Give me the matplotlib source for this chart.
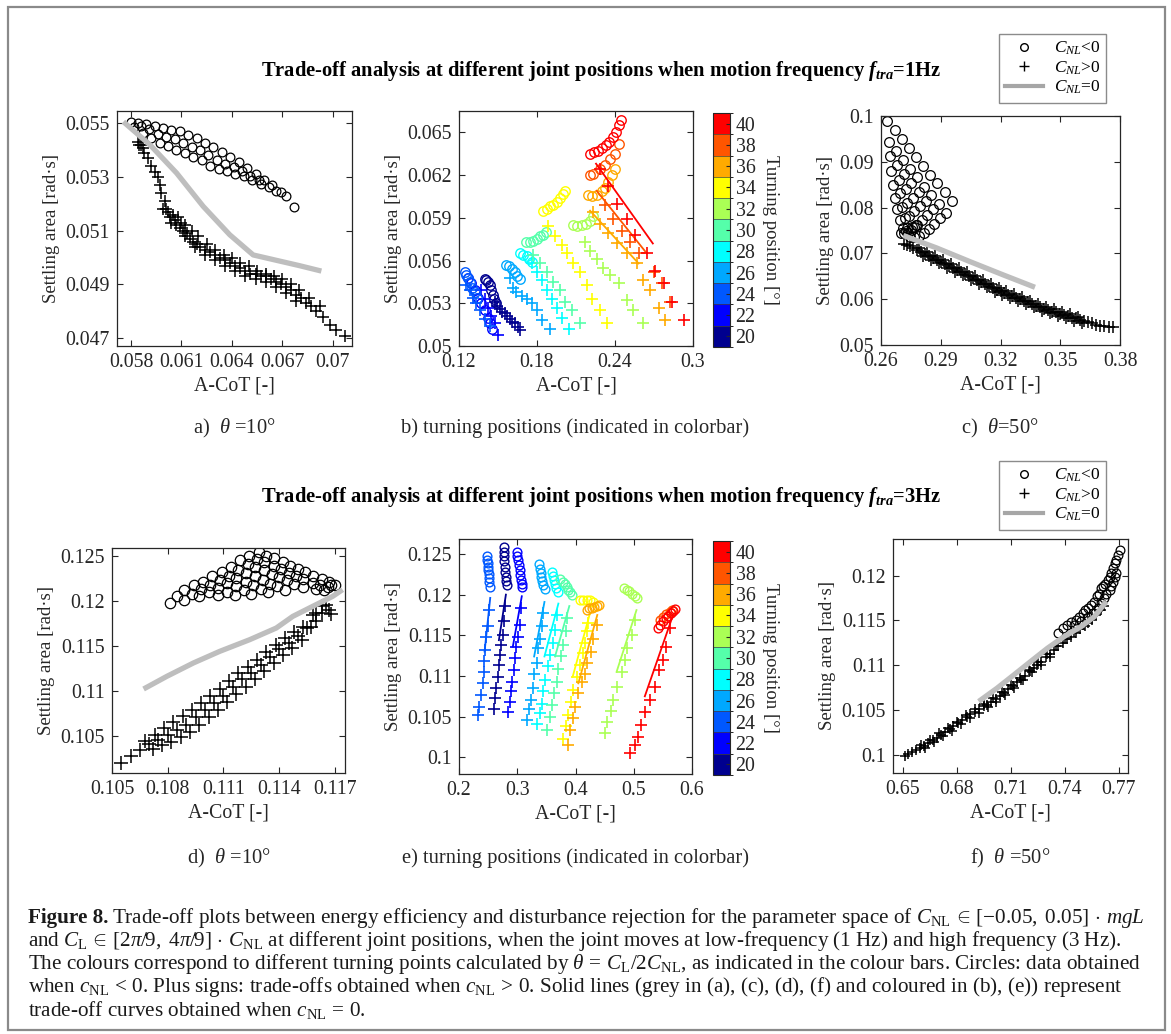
import numpy as np
import matplotlib
matplotlib.use('Agg')
import matplotlib.pyplot as plt
from matplotlib.colors import ListedColormap, BoundaryNorm
from matplotlib.colorbar import ColorbarBase
from matplotlib.lines import Line2D
from matplotlib.patches import Rectangle

plt.rcParams['font.family'] = ['Liberation Serif', 'DejaVu Serif']
plt.rcParams['mathtext.fontset'] = 'custom'
plt.rcParams['mathtext.rm'] = 'Liberation Serif'
plt.rcParams['mathtext.it'] = 'Liberation Serif:italic'
plt.rcParams['mathtext.bf'] = 'Liberation Serif:bold:italic'

W, H = 1171, 1034
grey = '#bebebe'
ink = '#262626'

# turning positions of the colour bars
positions = [20, 22, 24, 26, 28, 30, 32, 34, 36, 38, 40]
pos_colors = ['#00008f', '#0000ff', '#0058ff', '#00a8ff', '#00ffff', '#55ffaa',
              '#aaff55', '#ffff00', '#ffaa00', '#ff5500', '#ff0000']

# ---------------- (a) theta=10deg, 1 Hz ----------------
a_circ = np.array([
    (0.0580, 0.05506), (0.0584, 0.05503), (0.0589, 0.05498), (0.0594, 0.05492), (0.0599, 0.05484),
    (0.0604, 0.05477), (0.0609, 0.05470), (0.0614, 0.05458), (0.0619, 0.05444), (0.0624, 0.05428),
    (0.0629, 0.05411), (0.0634, 0.05394), (0.0639, 0.05374), (0.0644, 0.05355), (0.0649, 0.05334),
    (0.0654, 0.05311), (0.0659, 0.05290), (0.0664, 0.05270), (0.0669, 0.05245), (0.0672, 0.05231),
    (0.0586, 0.05492), (0.0591, 0.05478), (0.0596, 0.05462), (0.0601, 0.05450), (0.0606, 0.05440),
    (0.0611, 0.05428), (0.0616, 0.05413), (0.0621, 0.05400), (0.0626, 0.05382), (0.0631, 0.05365),
    (0.0636, 0.05350), (0.0641, 0.05336), (0.0646, 0.05322), (0.0651, 0.05305), (0.0656, 0.05290),
    (0.0582, 0.05485), (0.0587, 0.05465), (0.0592, 0.05445), (0.0597, 0.05426), (0.0602, 0.05415),
    (0.0607, 0.05402), (0.0612, 0.05390), (0.0617, 0.05375), (0.0622, 0.05362), (0.0627, 0.05340),
    (0.0632, 0.05330), (0.0637, 0.05321), (0.0642, 0.05312), (0.0647, 0.05303), (0.0652, 0.05290),
    (0.0657, 0.05275), (0.0662, 0.05262), (0.0666, 0.05247), (0.0677, 0.05190)])
a_plus = np.array([
    (0.0584, 0.0543), (0.0585, 0.0542), (0.0586, 0.0542), (0.0587, 0.0541), (0.0588, 0.0539),
    (0.0590, 0.0537), (0.0592, 0.0534), (0.0594, 0.0532), (0.0596, 0.0530), (0.0597, 0.0527),
    (0.0598, 0.0524), (0.0600, 0.0521), (0.0601, 0.0518), (0.0603, 0.0515), (0.0604, 0.0513),
    (0.0606, 0.0514), (0.0607, 0.0512), (0.0609, 0.0511), (0.0610, 0.0513), (0.0611, 0.0510),
    (0.0613, 0.0509), (0.0615, 0.0507), (0.0617, 0.0506), (0.0619, 0.0505), (0.0621, 0.0504),
    (0.0624, 0.0503), (0.0627, 0.0502), (0.0630, 0.0501), (0.0633, 0.0500), (0.0636, 0.0499),
    (0.0639, 0.0498), (0.0642, 0.0497), (0.0645, 0.0496), (0.0648, 0.0495), (0.0651, 0.0494),
    (0.0654, 0.0494), (0.0657, 0.0493), (0.0660, 0.0493), (0.0663, 0.0492), (0.0666, 0.0491),
    (0.0669, 0.0490), (0.0672, 0.0489), (0.0675, 0.0488), (0.0678, 0.0486), (0.0681, 0.0485),
    (0.0684, 0.0483), (0.0687, 0.0482), (0.0690, 0.0480), (0.0694, 0.0478), (0.0698, 0.0475),
    (0.0702, 0.0473), (0.0707, 0.0471),
    (0.0599, 0.0518), (0.0602, 0.0517), (0.0605, 0.0516), (0.0608, 0.0515), (0.0612, 0.0512),
    (0.0616, 0.0510), (0.0620, 0.0508), (0.0625, 0.0505), (0.0630, 0.0503), (0.0635, 0.0501),
    (0.0640, 0.0500), (0.0645, 0.0498), (0.0650, 0.0497), (0.0655, 0.0495), (0.0660, 0.0494),
    (0.0665, 0.0493), (0.0670, 0.0492), (0.0675, 0.0490), (0.0680, 0.0488), (0.0686, 0.0485),
    (0.0692, 0.0482),
    (0.0612, 0.0508), (0.0618, 0.0504), (0.0624, 0.0501), (0.0630, 0.0499), (0.0636, 0.0497),
    (0.0642, 0.0495), (0.0648, 0.0493), (0.0654, 0.0492), (0.0660, 0.0491), (0.0666, 0.0489),
    (0.0672, 0.0487), (0.0678, 0.0484)])
a_line_x = [0.05755, 0.05913, 0.06071, 0.06229, 0.06387, 0.06526, 0.06664, 0.06802, 0.06931]
a_line_y = [0.05506, 0.05420, 0.05315, 0.05191, 0.05085, 0.05010, 0.04990, 0.04970, 0.04950]

# ---------------- (b) turning positions, 1 Hz ----------------
b_circles = [
    [(0.1398, 0.0547), (0.1411, 0.0546), (0.1424, 0.0545), (0.1437, 0.0543), (0.1449, 0.0539), (0.1462, 0.0536), (0.1470, 0.0533), (0.1483, 0.0530)],
    [(0.1269, 0.0548), (0.1295, 0.0544), (0.1321, 0.0539), (0.1347, 0.0534), (0.1372, 0.0530), (0.1398, 0.0525), (0.1424, 0.0520), (0.1442, 0.0516), (0.1457, 0.0512)],
    [(0.1244, 0.0552), (0.1257, 0.0550), (0.1269, 0.0548), (0.1282, 0.0545), (0.1303, 0.0541), (0.1321, 0.0538), (0.1339, 0.0534)],
    [(0.1565, 0.0557), (0.1586, 0.0556), (0.1606, 0.0554), (0.1627, 0.0552), (0.1647, 0.0549), (0.1668, 0.0547)],
    [(0.1668, 0.0565), (0.1694, 0.0564), (0.1720, 0.0563), (0.1741, 0.0561), (0.1758, 0.0559)],
    [(0.1719, 0.0573), (0.1745, 0.0573), (0.1771, 0.0574), (0.1797, 0.0575), (0.1822, 0.0577), (0.1848, 0.0578), (0.1869, 0.0580)],
    [(0.2079, 0.0585), (0.2110, 0.0584), (0.2144, 0.0585), (0.2177, 0.0586), (0.2208, 0.0588), (0.2234, 0.0591)],
    [(0.1848, 0.0595), (0.1874, 0.0596), (0.1899, 0.0598), (0.1925, 0.0599), (0.1951, 0.0601), (0.1977, 0.0604), (0.2002, 0.0607), (0.2015, 0.0609)],
    [(0.2195, 0.0606), (0.2221, 0.0605), (0.2259, 0.0606), (0.2298, 0.0609), (0.2324, 0.0611), (0.2349, 0.0615), (0.2375, 0.0620), (0.2401, 0.0624)],
    [(0.2208, 0.0620), (0.2234, 0.0621), (0.2285, 0.0624), (0.2324, 0.0627), (0.2362, 0.0631), (0.2401, 0.0635), (0.2427, 0.0642)],
    [(0.2208, 0.0635), (0.2239, 0.0636), (0.2272, 0.0637), (0.2303, 0.0639), (0.2331, 0.0641), (0.2357, 0.0643), (0.2383, 0.0647), (0.2406, 0.0650), (0.2427, 0.0655), (0.2445, 0.0659)],
]
b_plus = [
    [(0.1475, 0.0531), (0.1490, 0.0528), (0.1514, 0.0526), (0.1530, 0.0524), (0.1552, 0.0523), (0.1570, 0.0521), (0.1591, 0.0519), (0.1610, 0.0517), (0.1629, 0.0516), (0.1650, 0.0513), (0.1668, 0.0511)],
    [(0.1372, 0.0539), (0.1398, 0.0533), (0.1424, 0.0527), (0.1449, 0.0521), (0.1475, 0.0516), (0.1501, 0.0508)],
    [(0.1257, 0.0543), (0.1282, 0.0539), (0.1308, 0.0534), (0.1334, 0.0530), (0.1359, 0.0525), (0.1398, 0.0519), (0.1437, 0.0514)],
    [(0.1591, 0.0548), (0.1617, 0.0541), (0.1642, 0.0538), (0.1681, 0.0535), (0.1720, 0.0533), (0.1758, 0.0530), (0.1797, 0.0525), (0.1836, 0.0518), (0.1900, 0.0512)],
    [(0.1758, 0.0558), (0.1797, 0.0552), (0.1836, 0.0546), (0.1874, 0.0539), (0.1913, 0.0533), (0.1952, 0.0527), (0.1991, 0.0520), (0.2043, 0.0512)],
    [(0.1771, 0.0564), (0.1822, 0.0558), (0.1874, 0.0552), (0.1925, 0.0545), (0.1977, 0.0539), (0.2015, 0.0531), (0.2067, 0.0525), (0.2131, 0.0516)],
    [(0.2169, 0.0573), (0.2208, 0.0567), (0.2259, 0.0561), (0.2311, 0.0555), (0.2362, 0.0550), (0.2427, 0.0544), (0.2491, 0.0532), (0.2542, 0.0525), (0.2619, 0.0516)],
    [(0.1887, 0.0584), (0.1938, 0.0577), (0.1989, 0.0571), (0.2028, 0.0565), (0.2079, 0.0558), (0.2131, 0.0552), (0.2182, 0.0543), (0.2221, 0.0533), (0.2285, 0.0525), (0.2337, 0.0516)],
    [(0.2234, 0.0594), (0.2285, 0.0586), (0.2349, 0.0579), (0.2414, 0.0572), (0.2491, 0.0565), (0.2568, 0.0558), (0.2619, 0.0546), (0.2671, 0.0539), (0.2735, 0.0527), (0.2787, 0.0518)],
    [(0.2324, 0.0599), (0.2388, 0.0589), (0.2452, 0.0581), (0.2517, 0.0573), (0.2581, 0.0565), (0.2697, 0.0552), (0.2761, 0.0544), (0.2825, 0.0531)],
    [(0.2285, 0.0624), (0.2349, 0.0612), (0.2414, 0.0600), (0.2491, 0.0589), (0.2555, 0.0578), (0.2645, 0.0565), (0.2709, 0.0553), (0.2774, 0.0544), (0.2838, 0.0531), (0.2928, 0.0518)],
]
b_lines = [[], [], [], [], [], [], [], [],
           [(0.2208, 0.0595), (0.2581, 0.0558)],
           [(0.2259, 0.0609), (0.2645, 0.0565)],
           [(0.2254, 0.0628), (0.2691, 0.0572)]]

# ---------------- (c) theta=50deg, 1 Hz ----------------
c_circ = np.array([
    (0.2632, 0.0988), (0.2668, 0.0969), (0.2704, 0.0949), (0.2740, 0.0930), (0.2776, 0.0911),
    (0.2812, 0.0891), (0.2847, 0.0872), (0.2883, 0.0853), (0.2919, 0.0833), (0.2955, 0.0814),
    (0.2638, 0.0943), (0.2674, 0.0924), (0.2710, 0.0904), (0.2746, 0.0885), (0.2782, 0.0866),
    (0.2818, 0.0846), (0.2853, 0.0827), (0.2889, 0.0808), (0.2925, 0.0788),
    (0.2645, 0.0912), (0.2681, 0.0893), (0.2717, 0.0873), (0.2753, 0.0854), (0.2789, 0.0835),
    (0.2825, 0.0815), (0.2860, 0.0796), (0.2896, 0.0777),
    (0.2652, 0.0880), (0.2688, 0.0861), (0.2724, 0.0841), (0.2760, 0.0822), (0.2796, 0.0803),
    (0.2832, 0.0783), (0.2867, 0.0764),
    (0.2660, 0.0850), (0.2696, 0.0831), (0.2732, 0.0811), (0.2768, 0.0792), (0.2804, 0.0773),
    (0.2840, 0.0753),
    (0.2670, 0.0821), (0.2706, 0.0802), (0.2742, 0.0782), (0.2778, 0.0763), (0.2814, 0.0744),
    (0.2682, 0.0796), (0.2718, 0.0777), (0.2754, 0.0757), (0.2790, 0.0738),
    (0.2695, 0.0774), (0.2731, 0.0755), (0.2767, 0.0735),
    (0.2709, 0.0755), (0.2745, 0.0736),
    (0.2700, 0.0745), (0.2715, 0.0745), (0.2725, 0.0750), (0.2735, 0.0745), (0.2750, 0.0752),
    (0.2765, 0.0758), (0.2780, 0.0762)])
c_plus = np.array([
    (0.2715, 0.0720), (0.2730, 0.0719), (0.2745, 0.0716), (0.2760, 0.0712), (0.2780, 0.0708),
    (0.2800, 0.0703), (0.2820, 0.0699), (0.2840, 0.0694), (0.2860, 0.0690), (0.2880, 0.0686),
    (0.2900, 0.0681), (0.2920, 0.0677), (0.2940, 0.0673), (0.2960, 0.0669), (0.2980, 0.0664),
    (0.3000, 0.0660), (0.3020, 0.0656), (0.3040, 0.0651), (0.3060, 0.0647), (0.3080, 0.0643),
    (0.3100, 0.0638), (0.3120, 0.0634), (0.3140, 0.0629), (0.3160, 0.0625), (0.3180, 0.0620),
    (0.3200, 0.0617), (0.3220, 0.0614), (0.3240, 0.0610), (0.3260, 0.0607), (0.3280, 0.0603),
    (0.3300, 0.0600), (0.3320, 0.0596), (0.3340, 0.0593), (0.3360, 0.0589), (0.3380, 0.0586),
    (0.3400, 0.0582), (0.3420, 0.0579), (0.3440, 0.0576), (0.3460, 0.0573), (0.3480, 0.0571),
    (0.3500, 0.0568), (0.3520, 0.0565), (0.3540, 0.0563), (0.3560, 0.0560), (0.3580, 0.0558),
    (0.3600, 0.0555), (0.3620, 0.0552), (0.3640, 0.0550), (0.3660, 0.0547), (0.3680, 0.0544),
    (0.3700, 0.0542), (0.3720, 0.0541), (0.3745, 0.0540), (0.3765, 0.0540),
    (0.2790, 0.0712), (0.2830, 0.0703), (0.2870, 0.0694), (0.2910, 0.0685), (0.2950, 0.0677),
    (0.2990, 0.0668), (0.3030, 0.0659), (0.3070, 0.0651), (0.3110, 0.0642), (0.3150, 0.0633),
    (0.3190, 0.0625), (0.3230, 0.0618), (0.3270, 0.0611), (0.3310, 0.0604), (0.3350, 0.0597),
    (0.3390, 0.0590), (0.3430, 0.0583), (0.3470, 0.0578), (0.3510, 0.0573), (0.3550, 0.0568),
    (0.3590, 0.0562),
    (0.2810, 0.0695), (0.2850, 0.0686), (0.2890, 0.0678), (0.2930, 0.0669), (0.2970, 0.0660),
    (0.3010, 0.0652), (0.3050, 0.0643), (0.3090, 0.0634), (0.3130, 0.0626), (0.3170, 0.0616),
    (0.3210, 0.0609), (0.3250, 0.0602), (0.3290, 0.0596), (0.3330, 0.0589), (0.3370, 0.0582),
    (0.3410, 0.0575), (0.3450, 0.0569), (0.3490, 0.0563), (0.3530, 0.0558), (0.3570, 0.0553),
    (0.3610, 0.0548)])
c_line_x = [0.2712, 0.2879, 0.3047, 0.3214, 0.3373]
c_line_y = [0.0739, 0.0712, 0.0682, 0.0653, 0.0626]

# ---------------- (d) theta=10deg, 3 Hz ----------------
d_circ = np.array([
    (0.1081, 0.1198),
    (0.1085, 0.1205), (0.1089, 0.1201),
    (0.1089, 0.1212), (0.1093, 0.1208), (0.1097, 0.1205),
    (0.1094, 0.1217), (0.1098, 0.1213), (0.1102, 0.1210), (0.1107, 0.1206),
    (0.1099, 0.1221), (0.1103, 0.1217), (0.1107, 0.1214), (0.1112, 0.1210), (0.1116, 0.1206),
    (0.1104, 0.1227), (0.1108, 0.1223), (0.1112, 0.1220), (0.1117, 0.1216), (0.1121, 0.1212), (0.1125, 0.1208),
    (0.1109, 0.1232), (0.1113, 0.1228), (0.1117, 0.1225), (0.1122, 0.1221), (0.1126, 0.1217), (0.1130, 0.1213),
    (0.1134, 0.1210),
    (0.1114, 0.1238), (0.1118, 0.1234), (0.1122, 0.1231), (0.1127, 0.1227), (0.1131, 0.1223), (0.1135, 0.1219),
    (0.1139, 0.1216), (0.1143, 0.1212),
    (0.1119, 0.1245), (0.1123, 0.1241), (0.1127, 0.1238), (0.1132, 0.1234), (0.1136, 0.1230), (0.1140, 0.1226),
    (0.1144, 0.1223), (0.1148, 0.1219), (0.1153, 0.1215),
    (0.1124, 0.1250), (0.1128, 0.1246), (0.1132, 0.1243), (0.1137, 0.1239), (0.1141, 0.1235), (0.1145, 0.1231),
    (0.1149, 0.1228), (0.1153, 0.1224), (0.1158, 0.1220), (0.1162, 0.1217),
    (0.1129, 0.1254), (0.1133, 0.1250), (0.1137, 0.1247), (0.1142, 0.1243), (0.1146, 0.1239), (0.1150, 0.1235),
    (0.1154, 0.1232), (0.1158, 0.1228), (0.1163, 0.1224), (0.1167, 0.1221),
    (0.1166, 0.1215), (0.1168, 0.1218), (0.1170, 0.1217), (0.1164, 0.1212), (0.1160, 0.1213)])
d_plus = np.array([
    (0.1055, 0.1021), (0.1060, 0.1028), (0.1065, 0.1035), (0.1070, 0.1041), (0.1075, 0.1046),
    (0.1080, 0.1051), (0.1085, 0.1057), (0.1090, 0.1063), (0.1095, 0.1071), (0.1100, 0.1079),
    (0.1105, 0.1087), (0.1110, 0.1095), (0.1115, 0.1105), (0.1120, 0.1113), (0.1125, 0.1120),
    (0.1130, 0.1129), (0.1135, 0.1138), (0.1140, 0.1147), (0.1145, 0.1153), (0.1150, 0.1161),
    (0.1155, 0.1170), (0.1160, 0.1187), (0.1165, 0.1195), (0.1163, 0.1187), (0.1167, 0.1190),
    (0.1168, 0.1185), (0.1160, 0.1178),
    (0.1068, 0.1045), (0.1073, 0.1052), (0.1078, 0.1059), (0.1083, 0.1066), (0.1088, 0.1072),
    (0.1093, 0.1079), (0.1098, 0.1087), (0.1103, 0.1095), (0.1108, 0.1102), (0.1113, 0.1111),
    (0.1118, 0.1120), (0.1123, 0.1127), (0.1128, 0.1135), (0.1133, 0.1143), (0.1138, 0.1151),
    (0.1143, 0.1159), (0.1148, 0.1165), (0.1153, 0.1171), (0.1158, 0.1184), (0.1163, 0.1194),
    (0.1072, 0.1036), (0.1077, 0.1040), (0.1082, 0.1044), (0.1087, 0.1049), (0.1092, 0.1055),
    (0.1097, 0.1063), (0.1102, 0.1071), (0.1107, 0.1079), (0.1112, 0.1088), (0.1117, 0.1097),
    (0.1122, 0.1105), (0.1127, 0.1113), (0.1132, 0.1122), (0.1137, 0.1131), (0.1142, 0.1140),
    (0.1147, 0.1148), (0.1152, 0.1157), (0.1157, 0.1171)])
d_line_x = [0.1067, 0.10795, 0.10938, 0.1108, 0.11241, 0.11384, 0.11473, 0.1158, 0.11688, 0.11741]
d_line_y = [0.11024, 0.11164, 0.11312, 0.11441, 0.1157, 0.11699, 0.11828, 0.11939, 0.1205, 0.12124]

# ---------------- (e) turning positions, 3 Hz ----------------
e_circles = [
    [(0.2765, 0.1258), (0.2765, 0.1253), (0.2770, 0.1247), (0.2776, 0.1241), (0.2782, 0.1234), (0.2788, 0.1228), (0.2799, 0.1222), (0.2810, 0.1217), (0.2822, 0.1212)],
    [(0.2993, 0.1253), (0.3004, 0.1248), (0.3016, 0.1242), (0.3027, 0.1236), (0.3039, 0.1230), (0.3050, 0.1224), (0.3061, 0.1218), (0.3073, 0.1213), (0.3084, 0.1209)],
    [(0.2479, 0.1247), (0.2485, 0.1243), (0.2491, 0.1239), (0.2496, 0.1234), (0.2502, 0.1230), (0.2508, 0.1225), (0.2514, 0.1220), (0.2519, 0.1215), (0.2525, 0.1209)],
    [(0.3381, 0.1238), (0.3392, 0.1232), (0.3404, 0.1227), (0.3415, 0.1222), (0.3432, 0.1217), (0.3449, 0.1212), (0.3472, 0.1207)],
    [(0.3592, 0.1228), (0.3609, 0.1223), (0.3626, 0.1218), (0.3643, 0.1213), (0.3666, 0.1208), (0.3695, 0.1203)],
    [(0.3735, 0.1219), (0.3780, 0.1216), (0.3820, 0.1213), (0.3849, 0.1209), (0.3877, 0.1206), (0.3906, 0.1203), (0.3934, 0.1200)],
    [(0.4830, 0.1208), (0.4876, 0.1206), (0.4922, 0.1204), (0.4967, 0.1201), (0.5013, 0.1198), (0.5058, 0.1196)],
    [(0.4077, 0.1194), (0.4134, 0.1194), (0.4191, 0.1193), (0.4248, 0.1193), (0.4294, 0.1191)],
    [(0.4191, 0.1181), (0.4237, 0.1183), (0.4277, 0.1184), (0.4317, 0.1185), (0.4362, 0.1186), (0.4408, 0.1187)],
    [(0.5447, 0.1169), (0.5504, 0.1172), (0.5561, 0.1176), (0.5618, 0.1179), (0.5663, 0.1181)],
    [(0.5418, 0.1159), (0.5458, 0.1163), (0.5504, 0.1167), (0.5549, 0.1171), (0.5595, 0.1174), (0.5640, 0.1177), (0.5675, 0.1180), (0.5703, 0.1182)],
]
e_plus = [
    [(0.2793, 0.1186), (0.2776, 0.1167), (0.2753, 0.1150), (0.2719, 0.1138), (0.2696, 0.1126), (0.2679, 0.1114), (0.2662, 0.1099), (0.2639, 0.1085), (0.2622, 0.1073), (0.2593, 0.1060)],
    [(0.3061, 0.1183), (0.3039, 0.1163), (0.3010, 0.1148), (0.2981, 0.1136), (0.2953, 0.1122), (0.2936, 0.1107), (0.2913, 0.1093), (0.2890, 0.1081), (0.2867, 0.1068), (0.2845, 0.1056)],
    [(0.2519, 0.1181), (0.2491, 0.1162), (0.2456, 0.1148), (0.2445, 0.1132), (0.2434, 0.1118), (0.2428, 0.1105), (0.2405, 0.1091), (0.2377, 0.1077), (0.2348, 0.1062), (0.2320, 0.1052)],
    [(0.3449, 0.1177), (0.3421, 0.1161), (0.3392, 0.1146), (0.3364, 0.1134), (0.3335, 0.1116), (0.3295, 0.1103), (0.3267, 0.1085), (0.3233, 0.1071), (0.3204, 0.1060), (0.3175, 0.1046)],
    [(0.3678, 0.1175), (0.3649, 0.1157), (0.3609, 0.1140), (0.3564, 0.1126), (0.3524, 0.1112), (0.3478, 0.1095), (0.3449, 0.1081), (0.3421, 0.1066), (0.3392, 0.1054), (0.3335, 0.1041)],
    [(0.3860, 0.1171), (0.3837, 0.1155), (0.3792, 0.1138), (0.3746, 0.1124), (0.3706, 0.1109), (0.3678, 0.1093), (0.3638, 0.1079), (0.3592, 0.1064), (0.3564, 0.1050), (0.3506, 0.1034)],
    [(0.5019, 0.1169), (0.4962, 0.1150), (0.4887, 0.1134), (0.4847, 0.1120), (0.4790, 0.1105), (0.4716, 0.1087), (0.4648, 0.1071), (0.4602, 0.1057), (0.4545, 0.1044), (0.4505, 0.1030)],
    [(0.4220, 0.1165), (0.4191, 0.1155), (0.4163, 0.1140), (0.4123, 0.1128), (0.4077, 0.1114), (0.4020, 0.1099), (0.3963, 0.1083), (0.3923, 0.1068), (0.3877, 0.1052), (0.3837, 0.1038), (0.3780, 0.1023)],
    [(0.4362, 0.1163), (0.4305, 0.1146), (0.4260, 0.1130), (0.4203, 0.1116), (0.4163, 0.1103), (0.4106, 0.1093), (0.4049, 0.1079), (0.3992, 0.1062), (0.3951, 0.1048), (0.3906, 0.1034), (0.3866, 0.1015)],
    [],
    [(0.5618, 0.1159), (0.5561, 0.1136), (0.5504, 0.1120), (0.5435, 0.1107), (0.5361, 0.1087), (0.5275, 0.1071), (0.5190, 0.1056), (0.5133, 0.1040), (0.5076, 0.1025), (0.5019, 0.1015), (0.4944, 0.1005)],
]
e_lines = [
    [(0.2805, 0.1200), (0.2685, 0.1144)],
    [(0.3078, 0.1198), (0.2924, 0.1136)],
    [(0.2536, 0.1196), (0.2439, 0.1130)],
    [(0.3467, 0.1191), (0.3290, 0.1124)],
    [(0.3706, 0.1189), (0.3467, 0.1124)],
    [(0.3894, 0.1186), (0.3649, 0.1124)],
    [(0.5047, 0.1181), (0.4705, 0.1105)],
    [(0.4248, 0.1177), (0.3951, 0.1099)],
    [(0.4374, 0.1175), (0.4049, 0.1091)],
    [],
    [(0.5675, 0.1175), (0.5190, 0.1075)],
]

# ---------------- (f) theta=50deg, 3 Hz ----------------
f_circ = np.array([
    (0.7360, 0.1136), (0.7388, 0.1141), (0.7412, 0.1145), (0.7435, 0.1148), (0.7463, 0.1151),
    (0.7481, 0.1154), (0.7500, 0.1158), (0.7513, 0.1162), (0.7528, 0.1164), (0.7547, 0.1167),
    (0.7565, 0.1171), (0.7580, 0.1177), (0.7593, 0.1180), (0.7603, 0.1186), (0.7612, 0.1188),
    (0.7625, 0.1191), (0.7640, 0.1195), (0.7650, 0.1199), (0.7659, 0.1203), (0.7668, 0.1208),
    (0.7678, 0.1214), (0.7687, 0.1218), (0.7696, 0.1223), (0.7706, 0.1229),
    (0.7453, 0.1145), (0.7491, 0.1149), (0.7528, 0.1154), (0.7556, 0.1158), (0.7584, 0.1164),
    (0.7603, 0.1169), (0.7621, 0.1175), (0.7631, 0.1180), (0.7650, 0.1184), (0.7659, 0.1188),
    (0.7668, 0.1193), (0.7678, 0.1199), (0.7687, 0.1203)])
f_plus = np.array([
    (0.6509, 0.0999), (0.6530, 0.1001), (0.6550, 0.1003), (0.6570, 0.1005), (0.6593, 0.1007),
    (0.6615, 0.1010), (0.6640, 0.1013), (0.6665, 0.1016), (0.6687, 0.1019), (0.6710, 0.1022),
    (0.6735, 0.1025), (0.6760, 0.1029), (0.6780, 0.1032), (0.6805, 0.1035), (0.6830, 0.1039),
    (0.6855, 0.1042), (0.6874, 0.1045), (0.6900, 0.1048), (0.6925, 0.1051), (0.6950, 0.1054),
    (0.6967, 0.1056), (0.6990, 0.1059), (0.7015, 0.1062), (0.7040, 0.1066), (0.7061, 0.1069),
    (0.7085, 0.1073), (0.7110, 0.1077), (0.7135, 0.1081), (0.7154, 0.1084), (0.7180, 0.1088),
    (0.7205, 0.1093), (0.7230, 0.1097), (0.7248, 0.1100), (0.7270, 0.1104), (0.7295, 0.1109),
    (0.7320, 0.1113), (0.7341, 0.1117), (0.7365, 0.1121), (0.7390, 0.1125), (0.7415, 0.1129),
    (0.7435, 0.1132), (0.7460, 0.1136), (0.7485, 0.1140), (0.7510, 0.1144), (0.7528, 0.1147),
    (0.7550, 0.1151), (0.7575, 0.1156), (0.7603, 0.1162), (0.7620, 0.1166),
    (0.6600, 0.1011), (0.6650, 0.1017), (0.6700, 0.1024), (0.6750, 0.1030), (0.6800, 0.1037),
    (0.6850, 0.1044), (0.6900, 0.1051), (0.6950, 0.1057), (0.7000, 0.1063), (0.7050, 0.1070),
    (0.7100, 0.1078), (0.7150, 0.1086), (0.7200, 0.1095), (0.7250, 0.1103), (0.7300, 0.1112),
    (0.7350, 0.1121), (0.7400, 0.1129), (0.7450, 0.1137), (0.7500, 0.1145), (0.7550, 0.1154),
    (0.6620, 0.1008), (0.6670, 0.1014), (0.6720, 0.1021), (0.6770, 0.1027), (0.6820, 0.1034),
    (0.6870, 0.1041), (0.6920, 0.1047), (0.6970, 0.1053), (0.7020, 0.1059), (0.7070, 0.1067),
    (0.7120, 0.1075), (0.7170, 0.1083), (0.7220, 0.1092), (0.7270, 0.1100), (0.7320, 0.1109)])
f_line_x = [0.6921, 0.7023, 0.7117, 0.7210, 0.7304, 0.7397, 0.7491, 0.7565, 0.7631]
f_line_y = [0.10595, 0.10743, 0.10892, 0.11041, 0.1119, 0.1132, 0.11431, 0.11543, 0.1171]


def box(l, t, r, b):
    return [l / W, 1 - b / H, (r - l) / W, (b - t) / H]


def style(ax, xlim, ylim, xt, yt):
    ax.set_xlim(xlim)
    ax.set_ylim(ylim)
    ax.set_xticks(xt)
    ax.set_yticks(yt)
    ax.set_xticklabels(['%g' % v for v in xt])
    ax.set_yticklabels(['%g' % v for v in yt])
    ax.tick_params(direction='in', top=True, right=True, length=4, width=0.8,
                   labelsize=14.3, color=ink, labelcolor=ink, pad=5)
    for s in ax.spines.values():
        s.set_linewidth(0.9)
        s.set_color(ink)
    ax.set_xlabel('A-CoT [-]', fontsize=14.3, color=ink, labelpad=3)
    ax.set_ylabel('Settling area [rad·s]', fontsize=13.5, color=ink, labelpad=4)


def black_panel(rect, circ, plus, lx, ly, cms, pms):
    ax = fig.add_axes(box(*rect))
    ax.plot(circ[:, 0], circ[:, 1], 'o', ms=cms, mfc='none', mec='k', mew=0.9)
    ax.plot(plus[:, 0], plus[:, 1], '+', ms=pms, mec='k', mew=1.1)
    ax.plot(lx, ly, '-', color=grey, lw=3.8, solid_capstyle='butt')
    return ax


def colour_panel(rect, circles, pluses, lines, cms, pms):
    ax = fig.add_axes(box(*rect))
    for col, cc, pp, ll in zip(pos_colors, circles, pluses, lines):
        if cc:
            cc = np.array(cc)
            ax.plot(cc[:, 0], cc[:, 1], 'o', ms=cms, mfc='none', mec=col, mew=1.0)
        if pp:
            pp = np.array(pp)
            ax.plot(pp[:, 0], pp[:, 1], '+', ms=pms, mec=col, mew=1.2)
        if ll:
            ll = np.array(ll)
            ax.plot(ll[:, 0], ll[:, 1], '-', color=col, lw=1.3)
    return ax


def colourbar(rect):
    cax = fig.add_axes(box(*rect))
    cmap = ListedColormap(pos_colors)
    norm = BoundaryNorm([p - 1 for p in positions] + [positions[-1] + 1], cmap.N)
    cb = ColorbarBase(cax, cmap=cmap, norm=norm, ticks=positions, drawedges=True)
    cb.outline.set_linewidth(0.8)
    cb.outline.set_edgecolor(ink)
    cb.dividers.set_color('#404040')
    cb.dividers.set_linewidth(0.5)
    cax.tick_params(direction='in', length=3, labelsize=14.3, color=ink, labelcolor=ink, pad=4)
    cb.set_label('Turning position [°]', rotation=-90, fontsize=13.5, labelpad=17, color=ink)


fig = plt.figure(figsize=(W / 100, H / 100), dpi=100)
fig.patches.append(Rectangle((8 / W, 1 - 1030 / H), 1157 / W, 1023 / H, transform=fig.transFigure,
                             fill=False, edgecolor='#8a8a8a', lw=1.6))

# top row
ax = black_panel((117, 111, 352, 346), a_circ, a_plus, a_line_x, a_line_y, 6.3, 8)
style(ax, (0.05717, 0.07113), (0.04671, 0.05546),
      [0.058, 0.061, 0.064, 0.067, 0.07], [0.047, 0.049, 0.051, 0.053, 0.055])

ax = colour_panel((459, 111, 693, 346), b_circles, b_plus, b_lines, 6.8, 9)
style(ax, (0.12, 0.30), (0.05, 0.0665),
      [0.12, 0.18, 0.24, 0.3], [0.05, 0.053, 0.056, 0.059, 0.062, 0.065])
colourbar((713, 113, 730, 347))

ax = black_panel((881, 116, 1120, 345), c_circ, c_plus, c_line_x, c_line_y, 7, 8)
style(ax, (0.26, 0.38), (0.05, 0.1),
      [0.26, 0.29, 0.32, 0.35, 0.38], [0.05, 0.06, 0.07, 0.08, 0.09, 0.1])

# bottom row
ax = black_panel((112, 548, 345, 773), d_circ, d_plus, d_line_x, d_line_y, 7.5, 10)
style(ax, (0.105, 0.11754), (0.10094, 0.12585),
      [0.105, 0.108, 0.111, 0.114, 0.117], [0.105, 0.11, 0.115, 0.12, 0.125])

ax = colour_panel((459, 539, 692, 774), e_circles, e_plus, e_lines, 6.3, 8.5)
style(ax, (0.2, 0.6), (0.09795, 0.12684),
      [0.2, 0.3, 0.4, 0.5, 0.6], [0.1, 0.105, 0.11, 0.115, 0.12, 0.125])
colourbar((713, 541, 730, 775))

ax = black_panel((893, 539, 1128, 773), f_circ, f_plus, f_line_x, f_line_y, 6.3, 7)
style(ax, (0.6444, 0.7752), (0.09796, 0.12409),
      [0.65, 0.68, 0.71, 0.74, 0.77], [0.1, 0.105, 0.11, 0.115, 0.12])

# row titles
for y, fr in [(71, '1Hz'), (497, '3Hz')]:
    fig.text(601 / W, 1 - y / H,
             r'Trade-off analysis at different joint positions when motion frequency $\mathbf{f_{tra}}$=' + fr,
             ha='center', va='center', fontsize=14.8, fontweight='bold', color='k')

# panel captions
caps = [(234, 428, r'a)  $\theta$ =10°'), (575, 428, 'b) turning positions (indicated in colorbar)'),
        (1000, 428, r'c)  $\theta$=50°'), (229, 858, r'd)  $\theta$ =10°'),
        (575, 858, 'e) turning positions (indicated in colorbar)'), (1010, 858, r'f)  $\theta$ =50°')]
for x, y, s in caps:
    fig.text(x / W, 1 - y / H, s, ha='center', va='center', fontsize=14.8, color=ink)

# legends
handles = [Line2D([], [], ls='none', marker='o', ms=5.5, mfc='none', mec='k', mew=1.0),
           Line2D([], [], ls='none', marker='+', ms=7, mec='k', mew=1.0),
           Line2D([], [], color='#a6a6a6', lw=3)]
labels = [r'$C_{NL}$<0', r'$C_{NL}$>0', r'$C_{NL}$=0']
for top in (34, 461):
    leg = fig.legend(handles, labels, loc='upper left', bbox_to_anchor=(999 / W, 1 - top / H),
                     fontsize=12.5, frameon=True, fancybox=False, borderpad=0.35,
                     labelspacing=0.12, handlelength=2.2, handletextpad=0.6, borderaxespad=0)
    leg.get_frame().set_edgecolor('#6e6e6e')
    leg.get_frame().set_linewidth(1.0)

# figure caption
cap_lines = [
    r'Trade-off plots between energy efficiency and disturbance rejection for the parameter space of $C_{\mathrm{NL}}\,\in\,[-0.05,\ 0.05]\,\cdot\,mgL$',
    r'and $C_{\mathrm{L}}\,\in\,[2\pi/9,\ 4\pi/9]\,\cdot\,C_{\mathrm{NL}}$ at different joint positions, when the joint moves at low-frequency (1 Hz) and high frequency (3 Hz).',
    r'The colours correspond to different turning points calculated by $\theta\,=\,C_{\mathrm{L}}/2C_{\mathrm{NL}}$, as indicated in the colour bars. Circles: data obtained',
    r'when $c_{\mathrm{NL}}\,<\,0$. Plus signs: trade-offs obtained when $c_{\mathrm{NL}}\,>\,0$. Solid lines (grey in (a), (c), (d), (f) and coloured in (b), (e)) represent',
    r'trade-off curves obtained when $c_{\mathrm{NL}}\,=\,0$.',
]
cap_y = [918, 941, 964, 987, 1010]
fs = 15.2
head = fig.text(28 / W, 1 - cap_y[0] / H, 'Figure 8.', ha='left', va='center',
                fontsize=fs, fontweight='bold', color='#1a1a1a')
r = fig.canvas.get_renderer()
hw = head.get_window_extent(renderer=r).width
fig.text((28 + hw + 4) / W, 1 - cap_y[0] / H, cap_lines[0], ha='left', va='center', fontsize=fs, color='#1a1a1a')
for s, y in zip(cap_lines[1:], cap_y[1:]):
    fig.text(28 / W, 1 - y / H, s, ha='left', va='center', fontsize=fs, color='#1a1a1a')

fig.savefig('out.png', dpi=100)
